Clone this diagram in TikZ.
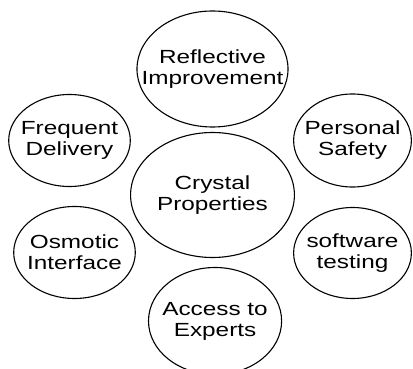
\documentclass[tikz,border=0pt]{standalone}
\usepackage{fontspec}
\setmainfont{Liberation Sans}
\usetikzlibrary{shapes.geometric}

\begin{document}
\begin{tikzpicture}[x=1pt,y=-1pt,node distance=126pt,
	prop/.style={draw,ellipse,line width=1.1pt,align=center,inner xsep=-20pt,inner ysep=0pt,
		font=\fontsize{19}{21}\selectfont,xscale=1.28}]
	\useasboundingbox (0,0) rectangle (413,369);
	\node[prop,minimum width=128pt,minimum height=125pt] (crystal) at (212.5,195) {Crystal\\Properties};
	\node[prop,minimum width=118pt,minimum height=116pt] (refl) [above of=crystal] {Reflective\\Improvement};
	\node[prop,minimum width=104pt,minimum height=107pt] (access) [below of=crystal,xshift=2pt] {Access to\\Experts};
	\node[prop,minimum width=95pt,minimum height=92pt] (freq) at (69.5,140.5) {Frequent\\Delivery};
	\node[prop,minimum width=95pt,minimum height=92pt] (osm) at (74.5,252.5) {Osmotic\\Interface};
	\node[prop,minimum width=92pt,minimum height=93pt] (pers) at (352.5,140.5) {Personal\\Safety};
	\node[prop,minimum width=92pt,minimum height=91pt] (soft) at (352.5,253) {software\\testing};
\end{tikzpicture}
\end{document}
